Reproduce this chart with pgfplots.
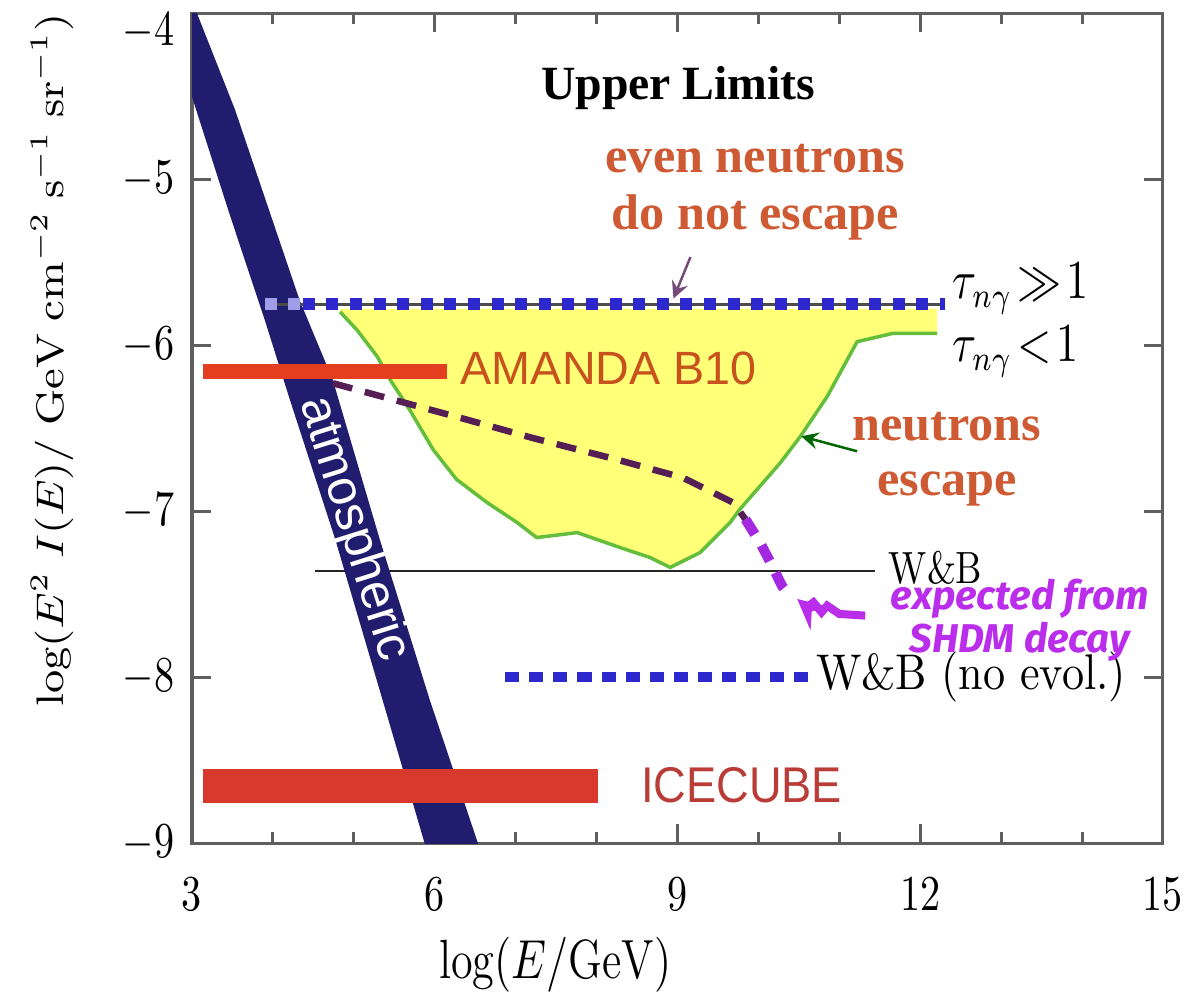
\documentclass[border=0pt]{standalone}
\usepackage{fontspec}
\usepackage{graphicx}
\usepackage{pgfplots}
\pgfplotsset{compat=1.18}
\newfontfamily\arialf{Liberation Sans}
\newfontfamily\timesf{Liberation Serif}
\newfontfamily\handf{Fira Sans}
\definecolor{navyband}{RGB}{33,29,110}
\definecolor{yellowfill}{RGB}{255,255,120}
\definecolor{greenline}{RGB}{100,190,60}
\definecolor{sqblue}{RGB}{45,40,205}
\definecolor{amandared}{RGB}{228,62,32}
\definecolor{icered}{RGB}{215,58,45}
\definecolor{amandatext}{RGB}{200,82,30}
\definecolor{icetext}{RGB}{185,60,55}
\definecolor{orangetext}{RGB}{205,90,50}
\definecolor{darkdash}{RGB}{85,30,85}
\definecolor{purpdash}{RGB}{165,40,225}
\definecolor{handpurple}{RGB}{185,45,235}
\definecolor{framegray}{RGB}{95,95,95}

\pgfplotstableread{
x y
2.60 -3.90
2.98 -3.90
3.06 -4.00
3.53 -4.58
4.33 -5.73
4.74 -6.21
5.32 -7.17
5.94 -8.14
6.54 -9.01
6.60 -9.10
5.95 -9.10
5.88 -9.01
5.32 -8.08
4.77 -7.17
4.21 -6.33
3.90 -5.85
3.47 -5.22
3.01 -4.52
}\bandtable

\pgfplotstableread{
x y
4.83 -5.80
5.04 -5.91
5.29 -6.07
5.45 -6.21
5.69 -6.39
5.98 -6.63
6.27 -6.81
6.65 -6.95
7.02 -7.07
7.26 -7.16
7.76 -7.13
8.29 -7.22
8.66 -7.28
8.91 -7.34
9.28 -7.25
9.65 -7.07
9.77 -6.99
10.27 -6.71
10.52 -6.55
10.85 -6.31
11.22 -5.98
11.66 -5.93
12.21 -5.93
}\greentable

\begin{document}
\begin{tikzpicture}
\begin{axis}[
  scale only axis, width=6.797cm, height=5.81cm,
  xmin=3, xmax=15, ymin=-9, ymax=-4,
  xtick={3,6,9,12,15}, minor xtick={4,5,7,8,10,11,13,14},
  ytick={-9,-8,-7,-6,-5},
  extra y ticks={-4},
  extra y tick style={yticklabel style={yshift=-0.13cm}},
  tick align=inside,
  major tick length=0.13cm, minor tick length=0.08cm,
  axis line style={framegray, line width=0.6pt},
  tick style={framegray, line width=0.6pt},
  ticklabel style={font=\fontsize{10}{12}\selectfont},
  xticklabel={\scalebox{0.8}[1]{$\pgfmathprintnumber{\tick}$}},
  yticklabel={\scalebox{0.8}[1]{$\pgfmathprintnumber{\tick}$}},
  xticklabel style={yshift=-0.12cm},
  xlabel={\scalebox{0.8}[1]{$\log(E/\mathrm{GeV})$}},
  xlabel style={font=\fontsize{11}{13}\selectfont, at={([yshift=-0.85cm]rel axis cs:0.374,0)}, anchor=center},
  ylabel={\scalebox{1}[0.85]{$\log(E^2\; I(E)/\;\mathrm{GeV}\;\mathrm{cm}^{-2}\;\mathrm{s}^{-1}\;\mathrm{sr}^{-1})$}},
  ylabel style={font=\fontsize{9}{11}\selectfont, at={([xshift=-0.98cm]rel axis cs:0,0.582)}, anchor=center},
]
\coordinate (sw) at (rel axis cs:0,0);
% yellow region
\addplot[fill=yellowfill, draw=none] table[x=x,y=y] {
x y
4.83 -5.78
12.21 -5.78
12.21 -5.93
11.66 -5.93
11.22 -5.98
10.85 -6.31
10.52 -6.55
10.27 -6.71
9.77 -6.99
9.65 -7.07
9.28 -7.25
8.91 -7.34
8.66 -7.28
8.29 -7.22
7.76 -7.13
7.26 -7.16
7.02 -7.07
6.65 -6.95
6.27 -6.81
5.98 -6.63
5.69 -6.39
5.45 -6.21
5.29 -6.07
5.04 -5.91
4.83 -5.80
};
\addplot[greenline, line width=0.7pt] table[x=x,y=y] {\greentable};
% W&B line
\addplot[black!85, line width=0.5pt] coordinates {(4.52,-7.36) (11.44,-7.36)};
% atmospheric band
\addplot[fill=navyband, draw=none] table[x=x,y=y] {\bandtable};
% AMANDA and ICECUBE
\addplot[amandared, line width=3pt] coordinates {(3.13,-6.16) (6.15,-6.16)};
\addplot[icered, line width=6.75pt] coordinates {(3.14,-8.655) (8.02,-8.655)};
% tau >> 1 dotted line
\addplot[black!70, line width=0.5pt] coordinates {(3.90,-5.755) (12.30,-5.755)};
\addplot[sqblue!45, line width=2.4pt, dash pattern=on 2.4pt off 2.3pt] coordinates {(3.90,-5.755) (4.37,-5.755)};
\addplot[sqblue, line width=2.4pt, dash pattern=on 2.4pt off 2.3pt] coordinates {(4.37,-5.755) (12.30,-5.755)};
% W&B no evol dotted line
\addplot[sqblue, line width=1.8pt, dash pattern=on 2.8pt off 2pt] coordinates {(6.87,-8.0) (10.66,-8.0)};
% SHDM expected curve
\addplot[darkdash, line width=1.3pt, dash pattern=on 4pt off 2.6pt] coordinates {
(4.74,-6.23) (5.57,-6.34) (6.40,-6.45) (7.21,-6.56) (8.25,-6.69) (9.07,-6.80) (9.69,-6.95) (9.84,-7.05)};
\addplot[purpdash, line width=2pt, dash pattern=on 3.5pt off 2.6pt] coordinates {
(9.84,-7.05) (10.02,-7.19) (10.17,-7.33) (10.29,-7.45) (10.39,-7.51)};
\addplot[handpurple, line width=1.6pt, -stealth] coordinates {
(11.32,-7.63) (11.0,-7.62) (10.85,-7.57) (10.78,-7.61) (10.68,-7.55) (10.60,-7.58) (10.48,-7.53)};
% annotations
\node[font=\timesf\bfseries\fontsize{9.5}{11}\selectfont] at (axis cs:9.01,-4.45) {Upper Limits};
\node[font=\timesf\bfseries\fontsize{10}{11.5}\selectfont, text=orangetext, align=center] at (axis cs:9.96,-5.08) {even neutrons\\do not escape};
\draw[-stealth, darkdash!80, line width=0.5pt] (axis cs:9.16,-5.47) -- (axis cs:8.95,-5.72);
\node[font=\timesf\bfseries\fontsize{10}{11}\selectfont, text=orangetext, align=center] at (axis cs:12.33,-6.69) {neutrons\\escape};
\draw[-stealth, black!60!green, line width=0.5pt] (axis cs:11.22,-6.64) -- (axis cs:10.53,-6.55);
\node[anchor=west, inner sep=0pt, font=\fontsize{10.5}{12}\selectfont] at (axis cs:12.39,-5.66) {\scalebox{0.8}[1]{$\tau_{n\gamma}\!\gg\!1$}};
\node[anchor=west, inner sep=0pt, font=\fontsize{10.5}{12}\selectfont] at (axis cs:12.39,-6.04) {\scalebox{0.8}[1]{$\tau_{n\gamma}\!<\!1$}};
\node[anchor=west, inner sep=0pt, font=\fontsize{9}{11}\selectfont] at (axis cs:11.60,-7.34) {\scalebox{0.8}[1]{W\&B}};
\node[anchor=west, inner sep=0pt, font=\fontsize{10}{11}\selectfont] at (axis cs:10.70,-8.0) {\scalebox{0.88}[1]{W\&B (no evol.)}};
\node[anchor=west, inner sep=0pt, font=\arialf\fontsize{9.3}{11}\selectfont, text=amandatext] at (axis cs:6.31,-6.14) {AMANDA B10};
\node[anchor=west, inner sep=0pt, font=\arialf\fontsize{10}{12}\selectfont, text=icetext] at (axis cs:8.54,-8.65) {\scalebox{0.9}[1]{ICECUBE}};
\node[rotate=-72.5, font=\arialf\fontsize{10}{12}\selectfont, text=white] at (axis cs:5.0,-7.11) {atmospheric};
\node[inner sep=1pt, font=\handf\bfseries\itshape\fontsize{8}{8.6}\selectfont, text=handpurple, align=center] at (axis cs:13.23,-7.66) {expected from\\SHDM decay};
\end{axis}
\pgfresetboundingbox
\path (sw) ++(-1.344cm,-1.05cm) rectangle ++(8.414cm,6.951cm);
\end{tikzpicture}
\end{document}
